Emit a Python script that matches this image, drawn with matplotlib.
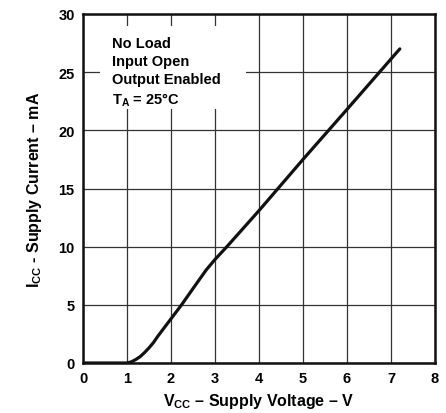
import numpy as np
import matplotlib.pyplot as plt
from matplotlib.patches import Rectangle

plt.rcParams['font.family'] = ['Liberation Sans', 'DejaVu Sans']
plt.rcParams['mathtext.fontset'] = 'custom'
plt.rcParams['mathtext.rm'] = 'Liberation Sans:bold'
plt.rcParams['mathtext.bf'] = 'Liberation Sans:bold'
plt.rcParams['mathtext.it'] = 'Liberation Sans:bold'

# Supply current vs supply voltage
vcc = [0.0, 0.9, 1.0, 1.1, 1.2, 1.3, 1.4, 1.5, 1.6, 1.7, 1.8, 2.0, 2.24, 2.5, 2.8, 3.0, 3.27, 4.0, 5.0, 6.0, 7.2]
icc = [0.0, 0.0, 0.0, 0.1, 0.3, 0.55, 0.9, 1.3, 1.75, 2.3, 2.8, 3.8, 5.0, 6.4, 8.0, 8.9, 10.0, 13.1, 17.5, 21.8, 27.0]

x_ticks = list(range(0, 9))
y_ticks = [0, 5, 10, 15, 20, 25, 30]
notes = ['No Load', 'Input Open', 'Output Enabled', r'T$_{\rm A}$ = 25°C']

fig = plt.figure(figsize=(4.46, 4.14), dpi=100)
ax = fig.add_axes([83/446, 1 - 364/414, (435 - 83)/446, (364 - 15)/414])

ax.plot(vcc, icc, color='#111111', linewidth=2.3, solid_capstyle='round', zorder=3)

ax.set_xlim(0, 8)
ax.set_ylim(0, 30)
ax.set_xticks(x_ticks)
ax.set_yticks(y_ticks)
ax.grid(True, color='#333333', linewidth=0.9)
ax.tick_params(length=0, labelsize=10.5, pad=6)
for lab in ax.get_xticklabels() + ax.get_yticklabels():
    lab.set_fontweight('bold')
for sp in ax.spines.values():
    sp.set_linewidth(1.8)
    sp.set_color('#111111')
    sp.set_zorder(5)

ax.set_xlabel(r'V$_{\rm CC}$ – Supply Voltage – V', fontsize=11.5, fontweight='bold', labelpad=4)
ax.set_ylabel(r'I$_{\rm CC}$ - Supply Current – mA', fontsize=11.5, fontweight='bold', labelpad=10)

# white box behind the note, hides the grid
ax.add_patch(Rectangle((0.38, 21.8), 3.32, 7.2, facecolor='white', edgecolor='none', zorder=2.5))
ax.text(0.66, 28.1, '\n'.join(notes), fontsize=10.5, fontweight='bold', va='top', ha='left',
        linespacing=1.35, zorder=4)

fig.savefig('out.png', dpi=100)
